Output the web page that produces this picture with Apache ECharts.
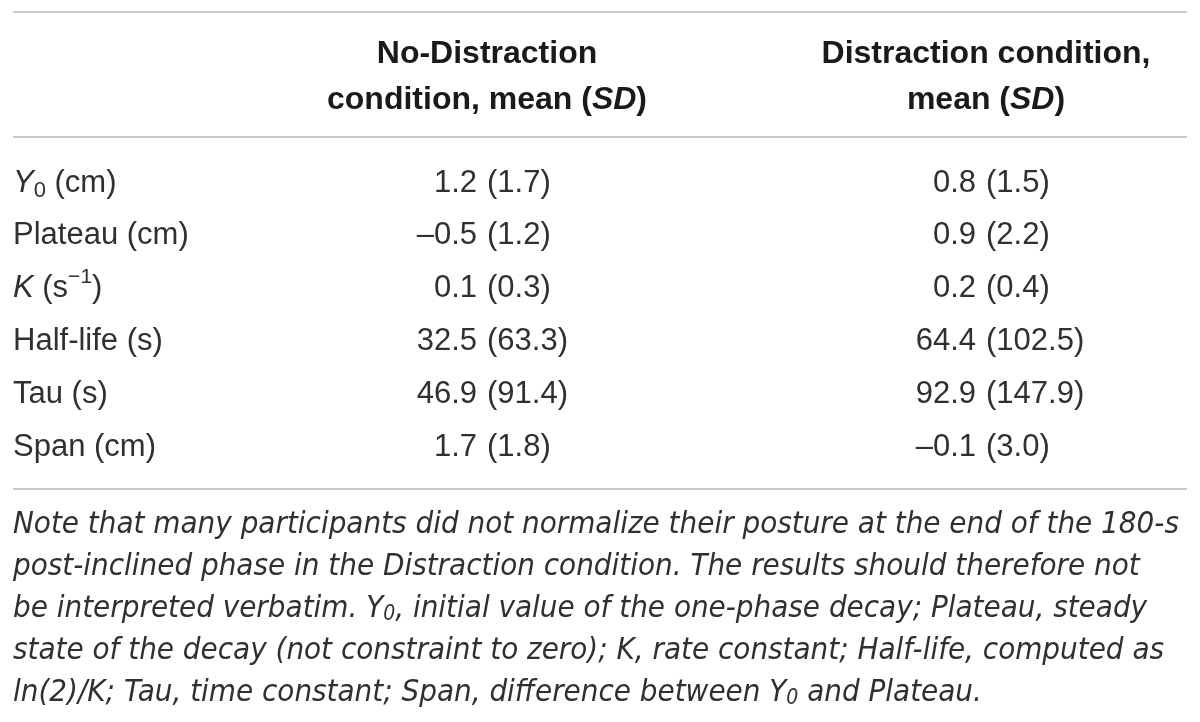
<!DOCTYPE html>
<html>
<head>
<meta charset="utf-8">
<script src="https://cdn.jsdelivr.net/npm/echarts@6/dist/echarts.min.js"></script>
<style>
  html, body { margin: 0; padding: 0; background: #fff; }
  #main { width: 1200px; height: 722px; }
</style>
</head>
<body>
<div id="main"></div>
<script>
// table data
var rowLabels = ['{it|Y}{sub|0} (cm)', 'Plateau (cm)', '{it|K} (s{sup|\u22121})', 'Half-life (s)', 'Tau (s)', 'Span (cm)'];
var colHeaders = [
    '{b|No-Distraction}\n{b|condition, mean (}{bi|SD}{b|)}',
    '{b|Distraction condition,}\n{b|mean (}{bi|SD}{b|)}'
];
var noDistMean = [1.2, -0.5, 0.1, 32.5, 46.9, 1.7];
var noDistSD = [1.7, 1.2, 0.3, 63.3, 91.4, 1.8];
var distMean = [0.8, 0.9, 0.2, 64.4, 92.9, -0.1];
var distSD = [1.5, 2.2, 0.4, 102.5, 147.9, 3.0];
var noteLines = [
    'Note that many participants did not normalize their posture at the end of the 180-s',
    'post-inclined phase in the Distraction condition. The results should therefore not',
    'be interpreted verbatim. Y{sub|0}, initial value of the one-phase decay; Plateau, steady',
    'state of the decay (not constraint to zero); K, rate constant; Half-life, computed as',
    'ln(2)/K; Tau, time constant; Span, difference between Y{sub|0} and Plateau.'
];

var FONT = 'Liberation Sans';
var NOTE_FONT = '"Liberation Sans Narrow", "DejaVu Sans Condensed", "Liberation Sans"';
var textColor = '#303030';

function fmt(v) {
    var s = v.toFixed(1);
    return v < 0 ? '\u2013' + s.substring(1) : s;
}

var meanData = [];
var sdData = [];
[noDistMean, distMean].forEach(function (arr, c) {
    arr.forEach(function (v, r) {
        meanData.push([c, r, v]);
    });
});
[noDistSD, distSD].forEach(function (arr, c) {
    arr.forEach(function (v, r) {
        sdData.push([c, r, v]);
    });
});

var mychart = echarts.init(document.getElementById('main'));
var cellLabel = {
    show: true,
    fontFamily: FONT,
    fontSize: 31,
    color: textColor,
    opacity: 1
};
var option = {
    backgroundColor: '#fff',
    animation: false,
    title: {
        text: noteLines.join('\n'),
        left: 13,
        top: 504,
        padding: 0,
        textStyle: {
            fontFamily: NOTE_FONT,
            fontSize: 31,
            fontStyle: 'italic',
            fontWeight: 'normal',
            lineHeight: 42,
            color: textColor,
            rich: {
                sub: {
                    fontFamily: NOTE_FONT,
                    fontSize: 21,
                    fontStyle: 'italic',
                    color: textColor,
                    padding: [12, 0, 0, 0]
                }
            }
        }
    },
    grid: {left: 487, right: 214, top: 156.6, bottom: 248.6},
    xAxis: {
        type: 'category',
        position: 'top',
        boundaryGap: false,
        data: colHeaders,
        axisLine: {show: false},
        axisTick: {show: false},
        splitLine: {show: false},
        axisLabel: {
            interval: 0,
            margin: 33,
            lineHeight: 46,
            rich: {
                b: {fontFamily: FONT, fontSize: 32, fontWeight: 'bold', color: '#1a1a1a', lineHeight: 46},
                bi: {fontFamily: FONT, fontSize: 32, fontWeight: 'bold', fontStyle: 'italic', color: '#1a1a1a', lineHeight: 46}
            }
        }
    },
    yAxis: {
        type: 'category',
        inverse: true,
        data: rowLabels,
        axisLine: {show: false},
        axisTick: {show: false},
        splitLine: {show: false},
        axisLabel: {
            interval: 0,
            align: 'left',
            margin: 474,
            fontFamily: FONT,
            fontSize: 31,
            color: textColor,
            rich: {
                it: {fontFamily: FONT, fontSize: 31, fontStyle: 'italic', color: textColor},
                sub: {fontFamily: FONT, fontSize: 22, color: textColor, padding: [15, 0, 0, 0]},
                sup: {fontFamily: FONT, fontSize: 21, color: textColor, padding: [0, 0, 22, 0]}
            }
        }
    },
    graphic: [
        {type: 'line', shape: {x1: 13, y1: 12, x2: 1187, y2: 12}, style: {stroke: '#cbcbcb', lineWidth: 2}},
        {type: 'line', shape: {x1: 13, y1: 137, x2: 1187, y2: 137}, style: {stroke: '#b8b8b8', lineWidth: 1.5}},
        {type: 'line', shape: {x1: 13, y1: 489, x2: 1187, y2: 489}, style: {stroke: '#b8b8b8', lineWidth: 1.5}}
    ],
    series: [
        {
            name: 'mean',
            type: 'scatter',
            symbolSize: 0,
            silent: true,
            itemStyle: {color: 'transparent', opacity: 1},
            data: meanData,
            label: Object.assign({}, cellLabel, {
                position: 'left',
                distance: 10,
                formatter: function (p) { return fmt(p.value[2]); }
            })
        },
        {
            name: 'sd',
            type: 'scatter',
            symbolSize: 0,
            silent: true,
            itemStyle: {color: 'transparent', opacity: 1},
            data: sdData,
            label: Object.assign({}, cellLabel, {
                position: 'right',
                distance: 0,
                formatter: function (p) { return '(' + fmt(p.value[2]) + ')'; }
            })
        }
    ]
};
mychart.setOption(option);
</script>
</body>
</html>
